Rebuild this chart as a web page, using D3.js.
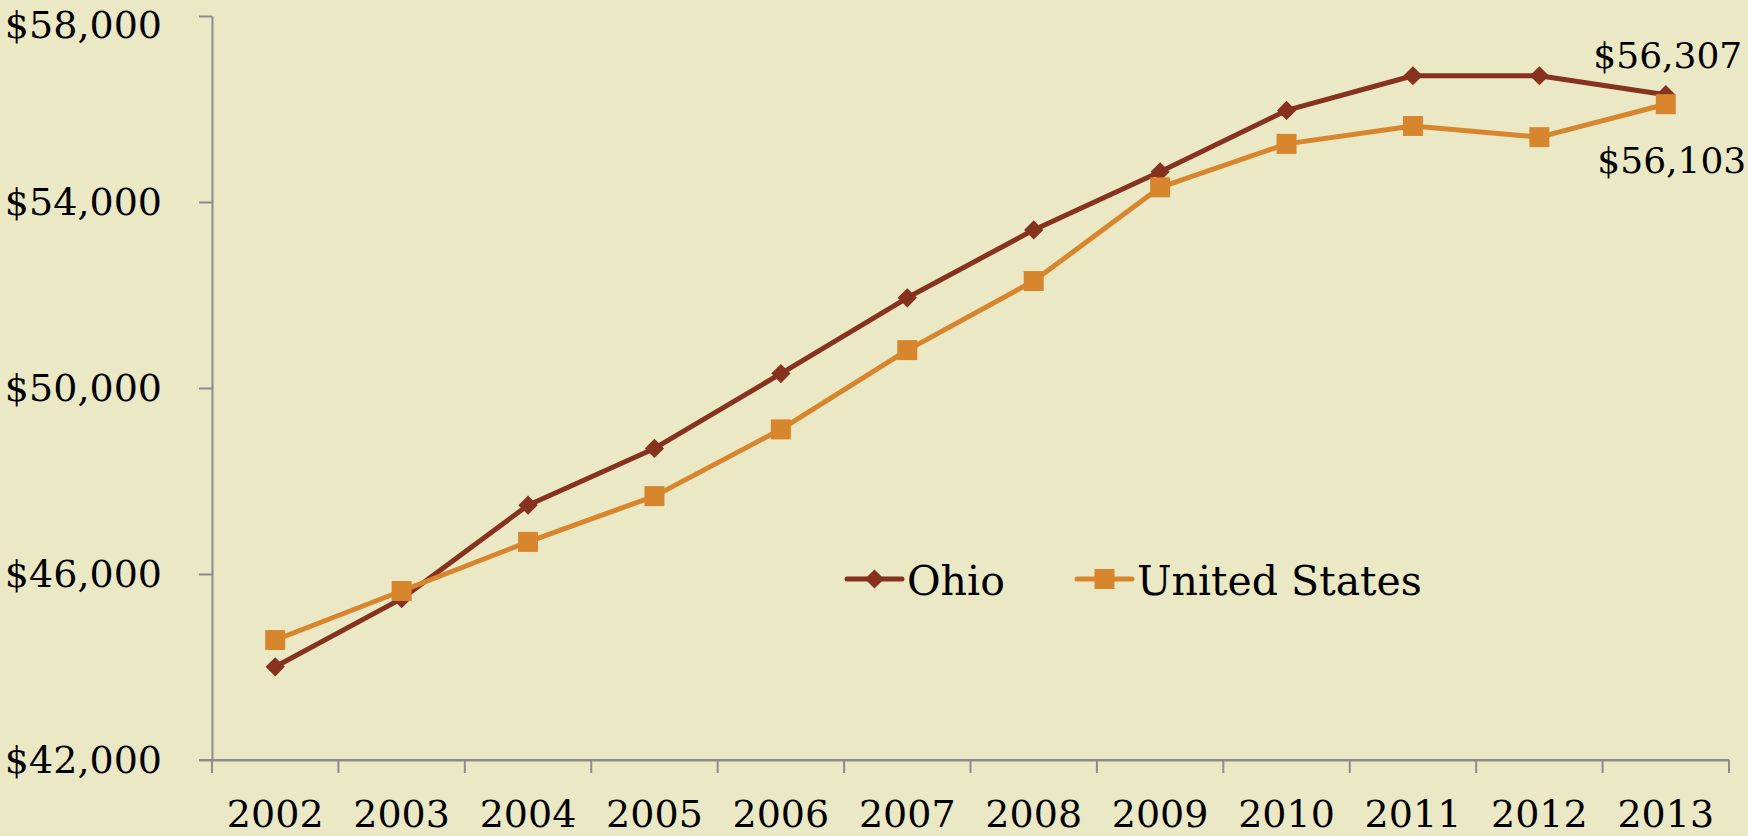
<!DOCTYPE html>
<html>
<head>
<meta charset="utf-8">
<script src="https://cdn.jsdelivr.net/npm/d3@7/dist/d3.min.js"></script>
<style>
  html, body { margin: 0; padding: 0; background: #EBE8C6; }
  svg { display: block; }
  text { font-family: "DejaVu Serif", "Liberation Serif", serif; fill: #000; }
</style>
</head>
<body>
<svg id="chart" width="1748" height="836"></svg>
<script>
const years = ["2002","2003","2004","2005","2006","2007","2008","2009","2010","2011","2012","2013"];
const ohioValues = [44005, 45470, 47480, 48700, 50310, 51940, 53400, 54650, 55970, 56715, 56715, 56307];
const usValues   = [44580, 45635, 46690, 47675, 49110, 50815, 52300, 54315, 55250, 55635, 55395, 56103];
const yTickValues = [42000, 46000, 50000, 54000, 58000];
const seriesNames = ["Ohio", "United States"];
const endLabels = ["$56,307", "$56,103"];

(function () {
const W = 1748, H = 836;
const mLeft = 212, mRight = 1729, mTop = 16, mBottom = 760;
const ohioColor = "#86321F", usColor = "#D8862D", axisColor = "#8C8C8C";

const svg = d3.select("#chart");
svg.append("rect").attr("width", W).attr("height", H).attr("fill", "#EBE8C6");

const x = d3.scaleBand().domain(years).range([mLeft, mRight]).padding(0);
const y = d3.scaleLinear().domain([42000, 58000]).range([mBottom, mTop]);
const cx = d => x(d) + x.bandwidth() / 2;
const fmt = v => "$" + d3.format(",")(v);

// Y axis
const yAxis = d3.axisLeft(y).tickValues(yTickValues).tickFormat(fmt)
  .tickSize(13).tickSizeOuter(0).tickPadding(37);
const gy = svg.append("g").attr("transform", `translate(${mLeft},0)`).call(yAxis);
gy.selectAll("path, line").attr("stroke", axisColor).attr("stroke-width", 2);
gy.selectAll("text").style("font-size", "38px").style("font-family", '"DejaVu Serif", serif').attr("fill", "#000");
gy.selectAll(".tick").filter(d => d === 58000).select("text").attr("dy", "0.56em");

// X axis: labels centered, ticks on band boundaries
const xAxis = d3.axisBottom(x).tickSize(0).tickSizeOuter(0).tickPadding(40);
const gx = svg.append("g").attr("transform", `translate(0,${mBottom})`).call(xAxis);
gx.select("path").attr("stroke", axisColor).attr("stroke-width", 2);
gx.selectAll("text").style("font-size", "38px").style("font-family", '"DejaVu Serif", serif').attr("fill", "#000");
const bounds = years.map(d => x(d)).concat([x(years[years.length - 1]) + x.bandwidth()]);
svg.append("g").selectAll("line").data(bounds).join("line")
  .attr("x1", d => d).attr("x2", d => d)
  .attr("y1", mBottom).attr("y2", mBottom + 13)
  .attr("stroke", axisColor).attr("stroke-width", 2);
svg.append("line").attr("x1", mLeft - 13).attr("x2", mRight).attr("y1", mBottom).attr("y2", mBottom)
  .attr("stroke", axisColor).attr("stroke-width", 2);

const line = d3.line().x(d => cx(d.year)).y(d => y(d.v));
const ohioData = years.map((yr, i) => ({year: yr, v: ohioValues[i]}));
const usData = years.map((yr, i) => ({year: yr, v: usValues[i]}));

const diamond = d3.symbol().type(d3.symbolSquare).size(185);
const square = d3.symbol().type(d3.symbolSquare).size(400);

// Ohio
svg.append("path").datum(ohioData).attr("d", line).attr("fill", "none")
  .attr("stroke", ohioColor).attr("stroke-width", 5).attr("stroke-linejoin", "round").attr("stroke-linecap", "round");
svg.append("g").selectAll("path").data(ohioData).join("path")
  .attr("d", diamond).attr("fill", ohioColor)
  .attr("transform", d => `translate(${cx(d.year)},${y(d.v)}) rotate(45)`);

// United States
svg.append("path").datum(usData).attr("d", line).attr("fill", "none")
  .attr("stroke", usColor).attr("stroke-width", 5).attr("stroke-linejoin", "round").attr("stroke-linecap", "round");
svg.append("g").selectAll("path").data(usData).join("path")
  .attr("d", square).attr("fill", usColor)
  .attr("transform", d => `translate(${cx(d.year)},${y(d.v)})`);

// End labels
const lastYear = years[years.length - 1];
svg.append("text").attr("x", cx(lastYear) + 2).attr("y", 68).attr("text-anchor", "middle")
  .style("font-size", "36px").text(endLabels[0]);
svg.append("text").attr("x", cx(lastYear) + 6).attr("y", 173).attr("text-anchor", "middle")
  .style("font-size", "36px").text(endLabels[1]);

// Legend
const legendY = 579;
const legend = [
  {name: seriesNames[0], color: ohioColor, sym: diamond, rot: 45, x0: 847},
  {name: seriesNames[1], color: usColor, sym: square, rot: 0, x0: 1077}
];
legend.forEach(l => {
  const g = svg.append("g");
  g.append("line").attr("x1", l.x0).attr("x2", l.x0 + 55).attr("y1", legendY).attr("y2", legendY)
    .attr("stroke", l.color).attr("stroke-width", 5).attr("stroke-linecap", "round");
  g.append("path").attr("d", l.sym).attr("fill", l.color)
    .attr("transform", `translate(${l.x0 + 27.5},${legendY}) rotate(${l.rot})`);
  g.append("text").attr("x", l.x0 + 60).attr("y", legendY + 16)
    .style("font-size", "41px").text(l.name);
});
})();
</script>
</body>
</html>
